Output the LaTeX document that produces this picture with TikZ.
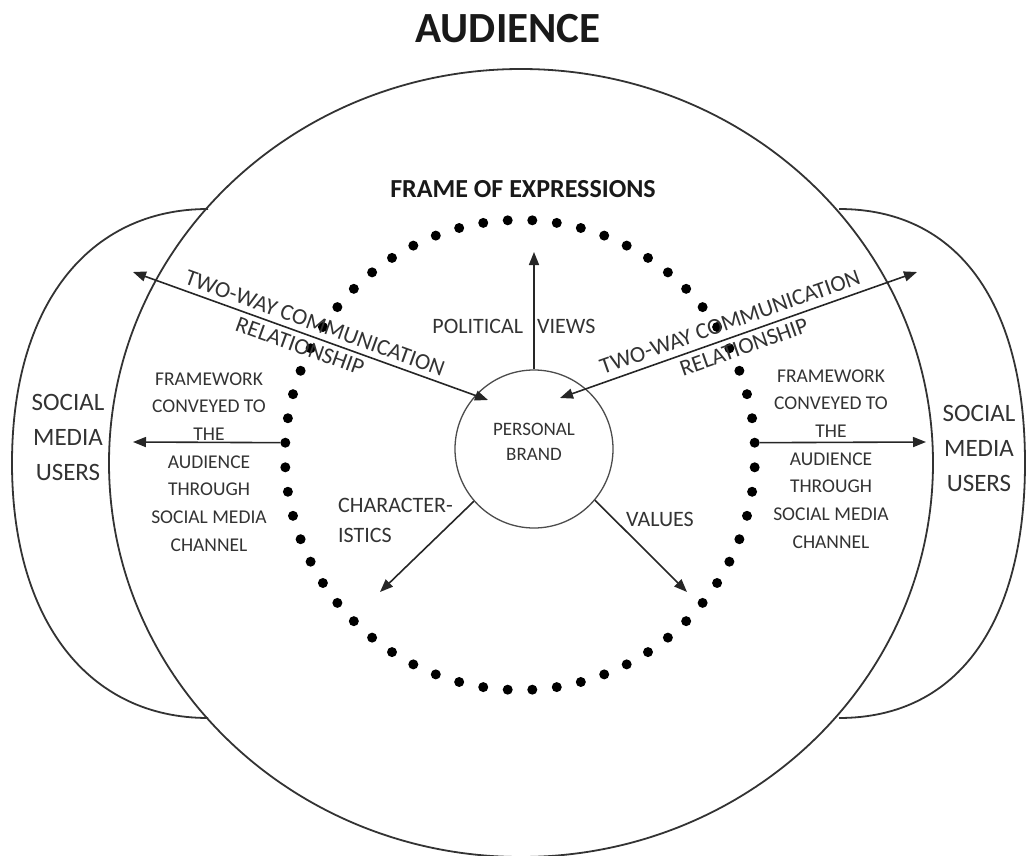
\documentclass[tikz,border=0pt]{standalone}
\usepackage{fontspec}
\setmainfont{Carlito}
\usetikzlibrary{arrows.meta,positioning,calc}
\newcommand*{\fw}{FRAMEWORK\\CONVEYED TO\\THE\\AUDIENCE\\THROUGH\\SOCIAL MEDIA\\CHANNEL}
\newcommand*{\smu}{SOCIAL\\MEDIA\\USERS}

\begin{document}
\begin{tikzpicture}[x=1pt, y=-1pt,
    ring/.style={line width=1.8pt, draw=black!80},
    arr/.style={line width=1.6pt, draw=black!85, -{Triangle[length=13pt,width=10pt]}},
    twoway/.style={line width=1.6pt, draw=black!85, {Triangle[length=13pt,width=10pt]}-{Triangle[length=13pt,width=10pt]}},
    lbl/.style={text=black!80, align=center, inner sep=0pt},
    twl/.style={lbl, font=\fontsize{23}{28}\selectfont},
    bead/.style={circle, fill=black, inner sep=0pt, minimum size=10pt}]
  \useasboundingbox (0,0) rectangle (1029,856);
  % outer shapes
  \draw[ring] (208,209) .. controls (88,209) and (12,306) .. (12,463) .. controls (12,620) and (88,718) .. (208,718);
  \draw[ring] (839,209) .. controls (960,209) and (1025,306) .. (1025,463) .. controls (1025,620) and (960,718) .. (839,718);
  \draw[ring] (521,463) ellipse [x radius=412pt, y radius=394pt];
  % frame of expressions
  \foreach \k in {0,...,59}
    \node[bead] (d\k) at ([shift={({-3+6*\k}:235)}]520,455) {};
  \node[circle, draw=black!70, line width=1.3pt, minimum size=158pt] (brand) at (534,449) {};
  \node[lbl, font=\fontsize{19}{25}\selectfont] (brandtxt) at (534,442) {PERSONAL\\BRAND};
  \node[font=\bfseries\fontsize{43}{50}\selectfont, text=black!90] (audience) at (508,29) {AUDIENCE};
  \node[font=\bfseries\fontsize{26}{30}\selectfont, text=black!90] (frame) at (523,189) {FRAME OF EXPRESSIONS};
  \node[lbl, font=\fontsize{22}{30}\selectfont] (polviews) at (514,326) {POLITICAL\hspace{14pt}VIEWS};
  \node[lbl, font=\fontsize{22}{30}\selectfont, align=left, anchor=west] (charac) at (338,520) {CHARACTER-\\ISTICS};
  \node[lbl, font=\fontsize{22}{30}\selectfont] (values) at (660,519) {VALUES};
  \node[lbl, font=\fontsize{19.5}{27.7}\selectfont] (fwleft) at (209,462) {\fw};
  \node[lbl, font=\fontsize{19.5}{27.7}\selectfont] (fwright) at (831,459) {\fw};
  \node[lbl, font=\fontsize{25}{35}\selectfont] (smuleft) at (68,437) {\smu};
  \node[lbl, font=\fontsize{25}{35}\selectfont] (smuright) at (979,448) {\smu};
  \node[twl, rotate=-19.8] (twlcomm) at (315,323) {TWO-WAY COMMUNICATION};
  \node[twl, rotate=-19.8] (twlrel) at (300,346) {RELATIONSHIP};
  \node[twl, rotate=19.4] (twrcomm) at (730,322) {TWO-WAY COMMUNICATION};
  \node[twl, rotate=19.4] (twrrel) at (744,347) {RELATIONSHIP};
  \coordinate (twlout) at (133,272);
  \coordinate (twlin) at (488,400);
  \coordinate (twrin) at (560,398);
  \coordinate (twrout) at (917,272);
  \coordinate (pvtip) at (534,252);
  \coordinate (chtip) at (380,592);
  \coordinate (vatip) at (687,592);
  \coordinate (fwltip) at (133,442);
  \coordinate (fwrtip) at (926,442);
  \draw[arr] (brand.north) -- (pvtip);
  \draw[arr] (brand.221) -- (chtip);
  \draw[arr] (brand.320) -- (vatip);
  \draw[arr] (d31) -- (fwltip);
  \draw[arr] (d0) -- (fwrtip);
  \draw[twoway] (twlout) -- (twlin);
  \draw[twoway] (twrin) -- (twrout);
\end{tikzpicture}
\end{document}
